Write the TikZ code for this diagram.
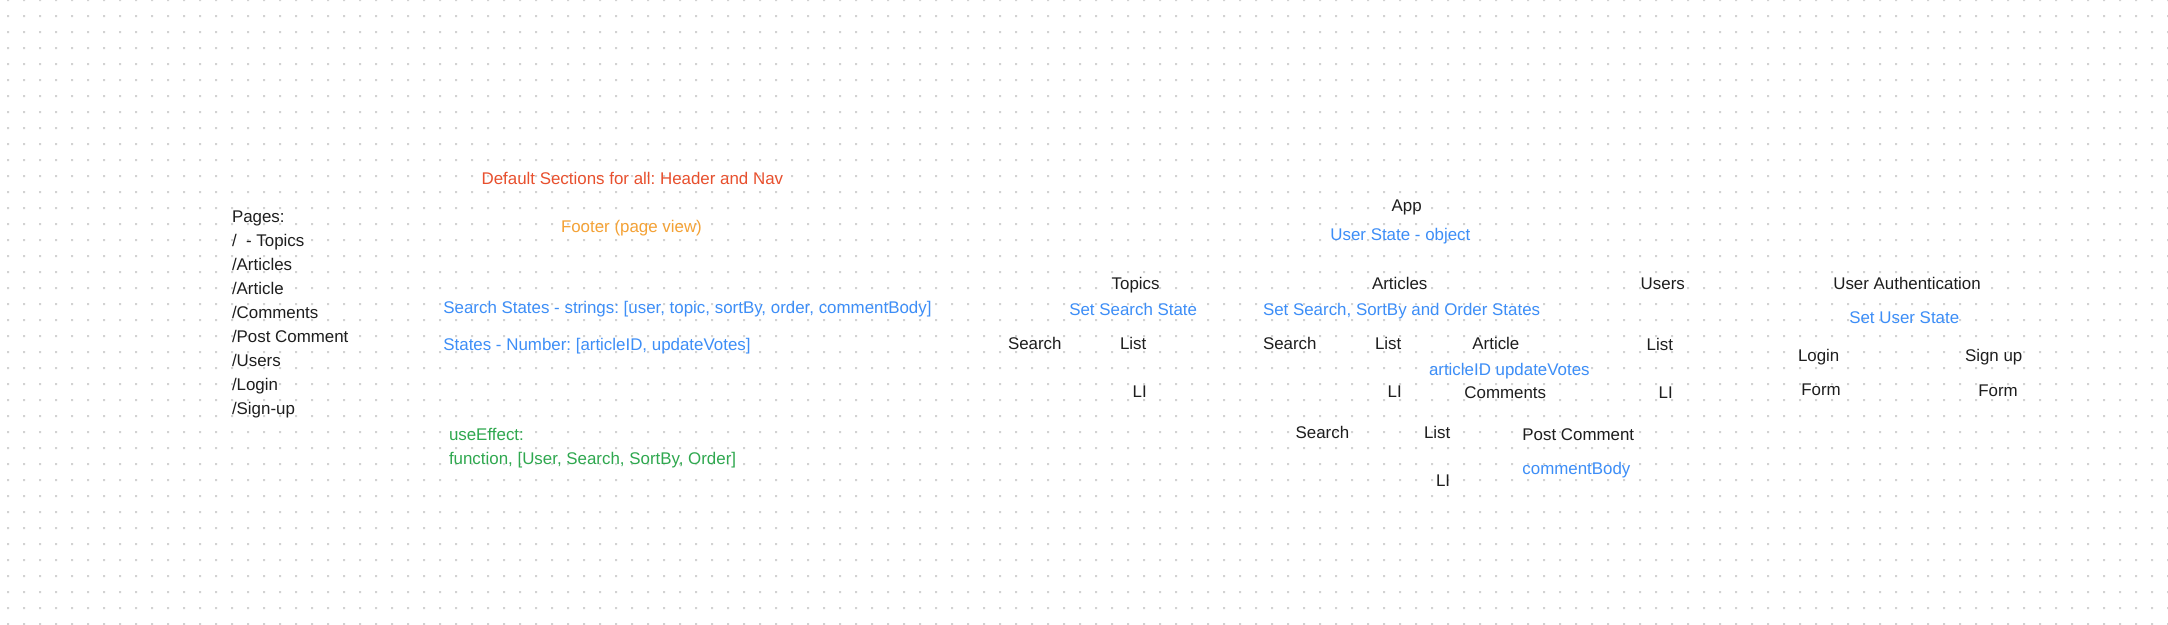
\documentclass[tikz,border=0pt]{standalone}
\usepackage{fontspec}
\setmainfont{Liberation Sans}
\frenchspacing
\definecolor{hdrred}{HTML}{E8502E}
\definecolor{ftrorange}{HTML}{F4A236}
\definecolor{stateblue}{HTML}{3D8EF7}
\definecolor{effgreen}{HTML}{2FA84F}
\definecolor{txtblack}{HTML}{1E1E1E}
\definecolor{dotgray}{HTML}{D2D2D2}
\tikzset{
  lbl/.style={anchor=base west,inner sep=0pt,outer sep=0pt,text=txtblack,
    font=\fontsize{16.9}{20}\selectfont},
  st/.style={lbl,text=stateblue},
}
\begin{document}
\begin{tikzpicture}[x=1pt,y=-1pt]
\pgfmathsetmacro{\gs}{16}
\pgfmathsetmacro{\pgY}{222.7}
\pgfmathsetmacro{\pgD}{24}
\useasboundingbox(0,0)rectangle(2168,624);
\fill[white](0,0)rectangle(2168,624);
% dot grid
\fill[dotgray]\foreach \i in {0,...,135}{\foreach \j in {0,...,39}{(8+\gs*\i-1,\gs*\j-1)rectangle++(2,2)}};
% pages
\foreach \t [count=\k from 0] in {Pages:,/\ \ - Topics,/Articles,/Article,/Comments,/Post Comment,/Users,/Login,/Sign-up}
  \node[lbl](pg\k)at(232,\pgY+\k*\pgD){\t};
%
\node[lbl,text=hdrred](hdr)at(481.6,184.3){Default Sections for all: Header and Nav};
\node[lbl,text=ftrorange](ftr)at(561,232.7){Footer (page view)};
\node[st](srchSt)at(443.4,313.3){Search States - strings: [user, topic, sortBy, order, commentBody]};
\node[st](numSt)at(443.4,350.7){States - Number: [articleID, updateVotes]};
\node[lbl,text=effgreen](useEff)at(449,440.3){useEffect:};
\node[lbl,text=effgreen](useFn)at(449,464.3){function, [User, Search, SortBy, Order]};
% app
\node[lbl](app)at(1391.6,211.7){App};
\node[st](usrSt)at(1330.4,240.3){User State - object};
% topics
\node[lbl](topics)at(1111.7,289.7){Topics};
\node[st](setSrch)at(1069.3,315.7){Set Search State};
\node[lbl](tSearch)at(1008,349.3){Search};
\node[lbl](tList)at(1120,349.3){List};
\node[lbl](tLI)at(1132.7,397){LI};
% articles
\node[lbl](articles)at(1372,289.7){Articles};
\node[st](setSort)at(1263,315.7){Set Search, SortBy and Order States};
\node[lbl](aSearch)at(1263,349.3){Search};
\node[lbl](aList)at(1375,349.3){List};
\node[lbl](aLI)at(1387.6,397){LI};
\node[lbl](article)at(1472.4,349.3){Article};
\node[st](artVotes)at(1429,375.3){articleID updateVotes};
\node[lbl](comments)at(1464.4,398.3){Comments};
\node[lbl](cSearch)at(1295.6,438.3){Search};
\node[lbl](cList)at(1424,438.3){List};
\node[lbl](cLI)at(1436,486){LI};
\node[lbl](postCmt)at(1522.4,440.3){Post Comment};
\node[st](cmtBody)at(1522.4,474.7){commentBody};
% users
\node[lbl](users)at(1640.7,289.3){Users};
\node[lbl](uList)at(1646.7,350.3){List};
\node[lbl](uLI)at(1658.7,398.7){LI};
% authentication
\node[lbl](auth)at(1833.3,289.3){User Authentication};
\node[st](setUsr)at(1849.3,323.3){Set User State};
\node[lbl](login)at(1798,361.3){Login};
\node[lbl](signup)at(1965,361.3){Sign up};
\node[lbl](loginForm)at(1801.3,395.3){Form};
\node[lbl](signupForm)at(1978.3,396.7){Form};
\end{tikzpicture}
\end{document}
